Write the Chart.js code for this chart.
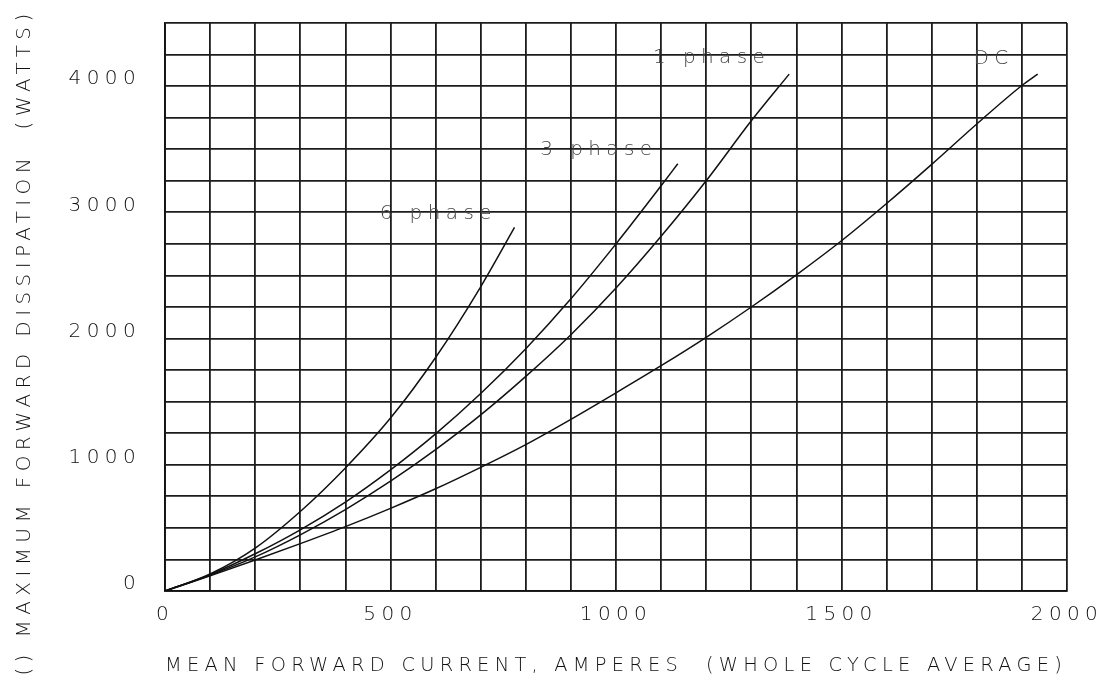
<!DOCTYPE html>
<html>
<head>
<meta charset="utf-8">
<title>Maximum forward dissipation</title>
<script src="https://cdn.jsdelivr.net/npm/chart.js@4.4.1/dist/chart.umd.min.js"></script>
<style>
	html, body { margin: 0; padding: 0; background: #fff; }
	#box { width: 1108px; height: 682px; }
</style>
</head>
<body>
<div id="box"><canvas id="graficoDissipacao"></canvas></div>
<script>
// valores (corrente media em A, dissipacao em W)
var dcCorrente = [0, 100, 200, 300, 400, 500, 600, 700, 800, 900, 1000, 1100, 1200, 1300, 1400, 1500, 1600, 1700, 1800, 1900, 1935];
var dcWatts = [0, 120, 245, 375, 510, 655, 810, 980, 1160, 1360, 1570, 1785, 2010, 2250, 2505, 2775, 3070, 3380, 3700, 4005, 4095];

var fase1Corrente = [0, 100, 200, 300, 400, 500, 600, 700, 800, 900, 1000, 1100, 1200, 1300, 1384];
var fase1Watts = [0, 125, 270, 445, 645, 870, 1120, 1395, 1700, 2030, 2400, 2810, 3250, 3725, 4095];

var fase3Corrente = [0, 100, 200, 300, 400, 500, 600, 700, 800, 900, 1000, 1100, 1137];
var fase3Watts = [0, 130, 295, 485, 705, 960, 1245, 1565, 1920, 2315, 2750, 3210, 3385];

var fase6Corrente = [0, 100, 200, 300, 400, 500, 600, 700, 775];
var fase6Watts = [0, 135, 340, 630, 975, 1370, 1850, 2410, 2880];

var rotulosCurvas = ['DC', '1 phase', '3 phase', '6 phase'];
var rotulosX = [1837, 1212, 962, 606];
var rotulosY = [4218, 4226, 3492, 2990];

var rotulosEixoX = [0, 500, 1000, 1500, 2000];
var rotulosEixoY = [0, 1000, 2000, 3000, 4000];

var tituloX = 'MEAN FORWARD CURRENT, AMPERES  (WHOLE CYCLE AVERAGE)';
var tituloY = '() MAXIMUM FORWARD DISSIPATION  (WATTS)';

var FONTE = '"DejaVu Sans", "Liberation Sans", sans-serif';
var ESPACO = '5.4px';

function pontos(xs, ys) {
	return xs.map(function(x, i) { return { x: x, y: ys[i] }; });
}

function serie(nome, xs, ys) {
	return {
		label: nome,
		data: pontos(xs, ys),
		showLine: true,
		borderColor: '#111',
		borderWidth: 1.5,
		pointRadius: 0,
		cubicInterpolationMode: 'monotone',
		fill: false
	};
}

// espacamento de letras tipo plotter
var espacamento = {
	id: 'espacamento',
	beforeLayout: function(chart) { chart.ctx.letterSpacing = ESPACO; },
	beforeDraw: function(chart) { chart.ctx.letterSpacing = ESPACO; }
};

var textos = {
	id: 'textos',
	afterDatasetsDraw: function(chart) {
		var ctx = chart.ctx;
		var sx = chart.scales.x, sy = chart.scales.y;
		ctx.save();
		ctx.letterSpacing = ESPACO;
		ctx.font = '200 20px ' + FONTE;
		ctx.fillStyle = '#444';
		ctx.textAlign = 'center';
		ctx.textBaseline = 'middle';
		rotulosCurvas.forEach(function(t, i) {
			ctx.fillText(t, sx.getPixelForValue(rotulosX[i]), sy.getPixelForValue(rotulosY[i]));
		});
		ctx.restore();
	},
	afterDraw: function(chart) {
		var ctx = chart.ctx;
		ctx.save();
		ctx.letterSpacing = ESPACO;
		ctx.font = '200 20px ' + FONTE;
		ctx.fillStyle = '#111';
		ctx.textAlign = 'center';
		ctx.textBaseline = 'middle';
		ctx.translate(25, 342);
		ctx.rotate(-Math.PI / 2);
		ctx.fillText(tituloY, 0, 0);
		ctx.restore();
	}
};

function semMargem(scale) {
	scale.paddingTop = 0;
	scale.paddingBottom = 0;
	scale.paddingLeft = 0;
	scale.paddingRight = 0;
}

var grade = { color: '#1c1c1c', lineWidth: 1.8, drawTicks: false };
var borda = { color: '#111', width: 1.8 };
var fonteEixo = { family: FONTE, size: 20, weight: '200' };

new Chart(document.getElementById('graficoDissipacao'), {
	type: 'scatter',
	data: {
		datasets: [
			serie('DC', dcCorrente, dcWatts),
			serie('1 phase', fase1Corrente, fase1Watts),
			serie('3 phase', fase3Corrente, fase3Watts),
			serie('6 phase', fase6Corrente, fase6Watts)
		]
	},
	options: {
		responsive: true,
		maintainAspectRatio: false,
		animation: false,
		layout: { padding: { top: 23, right: 41, left: 0, bottom: 0 } },
		plugins: { legend: { display: false }, tooltip: { enabled: false } },
		scales: {
			x: {
				type: 'linear',
				min: 0,
				max: 2000,
				afterFit: function(scale) { scale.height = 91; semMargem(scale); },
				ticks: {
					stepSize: 100,
					padding: 12,
					maxRotation: 0,
					autoSkip: false,
					color: '#111',
					font: fonteEixo,
					callback: function(v) { return rotulosEixoX.indexOf(v) >= 0 ? String(v) : ''; }
				},
				grid: grade,
				border: borda,
				title: {
					display: true,
					text: tituloX,
					color: '#111',
					font: fonteEixo,
					padding: { top: 0, bottom: 4 }
				}
			},
			y: {
				min: 0,
				max: 4500,
				afterFit: function(scale) { scale.width = 165; semMargem(scale); },
				ticks: {
					stepSize: 250,
					padding: 24,
					labelOffset: -7,
					autoSkip: false,
					color: '#111',
					font: fonteEixo,
					callback: function(v) { return rotulosEixoY.indexOf(v) >= 0 ? String(v) : ''; }
				},
				grid: grade,
				border: borda
			}
		}
	},
	plugins: [espacamento, textos]
});
</script>
</body>
</html>
